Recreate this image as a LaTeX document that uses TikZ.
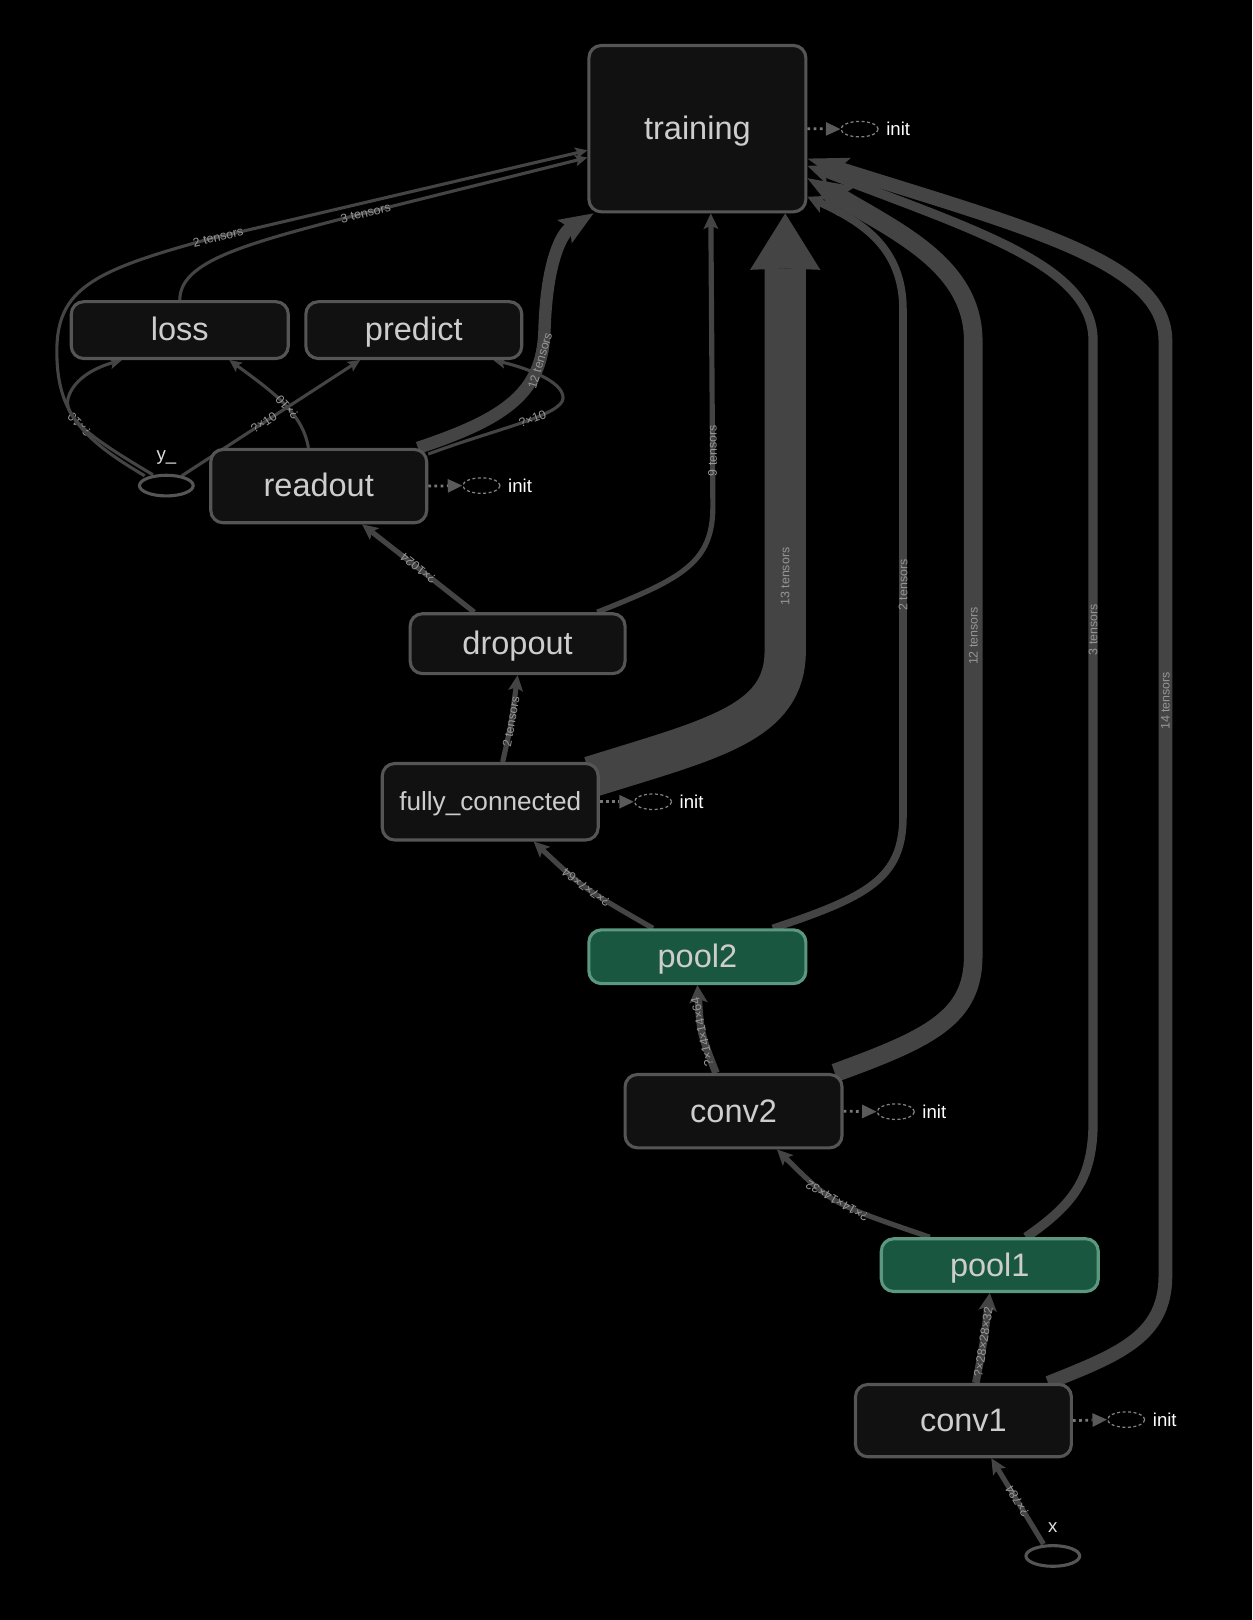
\documentclass[tikz,border=0pt]{standalone}
\usepackage{fontspec}
\setmainfont{Liberation Sans}
\usetikzlibrary{arrows.meta,shapes.geometric,calc}
\pgfdeclarelayer{back}
\pgfdeclarelayer{edges}
\pgfsetlayers{back,edges,main}
\definecolor{edgec}{RGB}{68,68,68}
\definecolor{nodefill}{RGB}{17,17,17}
\definecolor{nodeborder}{RGB}{85,85,85}
\definecolor{nodetext}{RGB}{205,205,205}
\definecolor{poolfill}{RGB}{26,87,65}
\definecolor{poolborder}{RGB}{92,152,128}
\definecolor{labelc}{RGB}{150,150,150}
\definecolor{initline}{RGB}{120,120,120}
\definecolor{inithead}{RGB}{90,90,90}
\definecolor{initell}{RGB}{130,130,130}
\tikzset{
  box/.style={draw=nodeborder, fill=nodefill, line width=2.25pt, rounded corners=9pt,
    text=nodetext, font=\fontsize{23.6pt}{28pt}\selectfont, inner sep=0pt,
    text height=15.8pt, text depth=0pt, anchor=center},
  poolbox/.style={box, draw=poolborder, fill=poolfill},
  inp/.style={ellipse, draw=nodeborder, line width=2.25pt, inner sep=0pt,
    minimum width=39pt, minimum height=15pt},
  inplabel/.style={text=white!88!black, font=\fontsize{13.5pt}{15pt}\selectfont, inner sep=0pt},
  ie/.style={ellipse, draw=initell, line width=0.9pt, dash pattern=on 2.2pt off 1.8pt,
    inner sep=0pt, minimum width=27pt, minimum height=11.25pt},
  inittext/.style={text=white, font=\fontsize{13.5pt}{15pt}\selectfont, inner sep=0pt, anchor=west},
  initl/.style={draw=initline, line width=2pt, dash pattern=on 2pt off 2.5pt,
    -{Triangle[length=10.5pt,width=10pt,line width=0pt,fill=inithead,color=inithead]}},
  elab/.style={sloped, allow upside down, text=labelc, font=\fontsize{9pt}{10pt}\selectfont, inner sep=0pt},
  ew3/.style={draw=edgec, line width=2.25pt, -{Stealth[length=9pt,width=8.5pt,inset=2pt,line width=0pt]}},
  ew5/.style={draw=edgec, line width=3.75pt, -{Stealth[length=11.5pt,width=11pt,inset=2.5pt,line width=0pt]}},
  ew7/.style={draw=edgec, line width=5.5pt, -{Stealth[length=13pt,width=13.5pt,inset=3pt,line width=0pt]}},
  ew9/.style={draw=edgec, line width=6.75pt, -{Stealth[length=18pt,width=15pt,inset=4pt,line width=0pt]}},
  ew12/.style={draw=edgec, line width=9pt, -{Stealth[length=25pt,width=20pt,inset=5pt,line width=0pt]}},
  ew13/.style={draw=edgec, line width=10pt, -{Stealth[length=30pt,width=20pt,inset=6pt,line width=0pt]}},
  ew18/.style={draw=edgec, line width=13.5pt, -{Stealth[length=33pt,width=25pt,inset=6pt,line width=0pt]}},
  ew40/.style={draw=edgec, line width=30pt, -{Stealth[length=41pt,width=51pt,inset=1pt,line width=0pt]}}
}
\begin{document}
\begin{tikzpicture}[x=0.75pt,y=-0.75pt]
\begin{pgfonlayer}{back}
\fill[black] (0,0) rectangle (1212,1568);
\end{pgfonlayer}
\useasboundingbox (0,0) rectangle (1212,1568);

% nodes
\node[box, minimum width=157.5pt, minimum height=120.75pt] (training) at (675,124.5) {training};
\node[box, minimum width=157.5pt, minimum height=41.25pt] (loss) at (174,319.5) {loss};
\node[box, minimum width=156.75pt, minimum height=41.25pt] (predict) at (400.5,319.5) {predict};
\node[box, minimum width=156.75pt, minimum height=53.25pt] (readout) at (308.5,470.5) {readout};
\node[box, minimum width=156pt, minimum height=43.5pt] (dropout) at (501,623) {dropout};
\node[box, minimum width=156.75pt, minimum height=55.5pt, font=\fontsize{19pt}{22pt}\selectfont, text height=12.7pt] (fc) at (474.5,776) {fully\_connected};
\node[poolbox, minimum width=157.5pt, minimum height=39pt] (pool2) at (675,926) {pool2};
\node[box, minimum width=157.5pt, minimum height=53.25pt] (conv2) at (710,1075.5) {conv2};
\node[poolbox, minimum width=157.5pt, minimum height=38.25pt] (pool1) at (958,1224.5) {pool1};
\node[box, minimum width=156.75pt, minimum height=52.5pt] (conv1) at (932.5,1375) {conv1};

\node[inp] (yy) at (161,470) {};
\node[inplabel] (yylab) at (161,443) {y\_};
\node[inp] (xx) at (1019,1506) {};
\node[inplabel] (xxlab) at (1019,1479) {x};

% init ellipses
\node[ie] (ie1) at (832,125) {};
\node[inittext] (it1) at ([shift={(7,0)}]ie1.east) {init};
\node[ie] (ie2) at (466,470) {};
\node[inittext] (it2) at ([shift={(7,0)}]ie2.east) {init};
\node[ie] (ie3) at (632,776) {};
\node[inittext] (it3) at ([shift={(7,0)}]ie3.east) {init};
\node[ie] (ie4) at (867,1076) {};
\node[inittext] (it4) at ([shift={(7,0)}]ie4.east) {init};
\node[ie] (ie5) at (1090,1374) {};
\node[inittext] (it5) at ([shift={(7,0)}]ie5.east) {init};

\begin{pgfonlayer}{edges}
% init connectors
\draw[initl] (training.east) -- (ie1.west);
\draw[initl] (readout.east) -- (ie2.west);
\draw[initl] (fc.east) -- (ie3.west);
\draw[initl] (conv2.east) -- (ie4.west);
\draw[initl] (conv1.east) -- (ie5.west);

% x -> conv1
\draw[ew5] ([shift={(-9,0)}]xx.north) -- node[elab]{?×784} ([shift={(27,0)}]conv1.south);
% conv1 -> pool1
\draw[ew7] ([shift={(12,0)}]conv1.north) .. controls (952,1300) .. node[elab]{?×28×28×32} (pool1.south);
% conv1 -> training
\draw[ew13] ([shift={(82,0)}]conv1.north) .. controls (1080,1312) and (1128,1295) .. (1128,1235)
  -- node[elab,pos=0.615]{14 tensors} (1128,330)
  .. controls (1128,255) and (1000,222) .. ([shift={(0,29)}]training.east);
% pool1 -> training
\draw[ew9] ([shift={(35,0)}]pool1.north) .. controls (1040,1165) and (1058,1140) .. (1058,1085)
  -- node[elab,pos=0.63]{3 tensors} (1058,330)
  .. controls (1058,258) and (950,225) .. ([shift={(0,36)}]training.east);
% conv2 -> training
\draw[ew18] ([shift={(98,0)}]conv2.north) .. controls (900,1005) and (942,985) .. (942,925)
  -- node[elab,pos=0.52]{12 tensors} (942,330)
  .. controls (942,258) and (870,225) .. ([shift={(0,48)}]training.east);
% pool2 -> training
\draw[ew7] ([shift={(73,0)}]pool2.north) .. controls (840,868) and (874,850) .. (874,790)
  -- node[elab,pos=0.457]{2 tensors} (874,300)
  .. controls (874,240) and (835,215) .. ([shift={(0,66)}]training.east);
% fc -> training
\draw[ew40] ([shift={(-9,-24)}]fc.east) .. controls (690,715) and (760,700) .. (760,630)
  -- node[elab,pos=0.17]{13 tensors} ([shift={(85,0)}]training.south);
% dropout -> training
\draw[ew5] ([shift={(77,0)}]dropout.north) .. controls (660,560) and (690,545) .. (690,490)
  -- node[elab,pos=0.19]{9 tensors} ([shift={(13,0)}]training.south);
% readout -> training
\draw[ew12] ([shift={(96,0)}]readout.north) .. controls (490,405) and (525,380) .. node[elab,pos=0.82]{12 tensors} (527,320)
  .. controls (529,250) and (545,225) .. ([shift={(6,0)}]training.south west);
% readout -> predict
\draw[ew3] ([shift={(0,6)}]readout.north east) .. controls (480,415) and (545,402) .. node[elab,pos=0.58]{?×10} (545,385)
  .. controls (545,368) and (505,355) .. ([shift={(77,0)}]predict.south);
% readout -> loss
\draw[ew3] ([shift={(-10,0)}]readout.north) .. controls (293,400) and (265,380) .. node[elab,pos=0.45]{?×10} ([shift={(48,0)}]loss.south);
% y_ -> loss
\draw[ew3] ([shift={(-13,1)}]yy.north) .. controls (95,428) and (60,405) .. node[elab,pos=0.6]{?×10} (66,385)
  .. controls (72,365) and (95,355) .. ([shift={(-56,0)}]loss.south);
% y_ -> predict
\draw[ew3] ([shift={(15,2)}]yy.north) -- node[elab,pos=0.46]{?×10} ([shift={(-52,0)}]predict.south);
% y_ -> training
\draw[ew3] ([shift={(-21,2)}]yy.north) .. controls (80,425) and (55,400) .. (55,340)
  .. controls (55,280) and (90,262) .. (200,232)
  -- node[elab,pos=0.03]{2 tensors} ([shift={(0,21)}]training.west);
% loss -> training
\draw[ew3] (loss.north) .. controls (174,255) and (230,238) .. (330,212)
  -- node[elab,pos=0.1]{3 tensors} ([shift={(0,28)}]training.west);
% dropout -> readout
\draw[ew5] ([shift={(-42,0)}]dropout.north) .. controls (405,550) .. node[elab]{?×1024} ([shift={(42,0)}]readout.south);
% fc -> dropout
\draw[ew5] ([shift={(12,0)}]fc.north) .. controls (495,700) .. node[elab]{2 tensors} (dropout.south);
% pool2 -> fc
\draw[ew5] ([shift={(-43,0)}]pool2.north) .. controls (565,860) .. node[elab]{?×7×7×64} ([shift={(42,0)}]fc.south);
% conv2 -> pool2
\draw[ew7] ([shift={(-17,0)}]conv2.north) .. controls (678,1000) .. node[elab]{?×14×14×64} (pool2.south);
% pool1 -> conv2
\draw[ew5] ([shift={(-58,0)}]pool1.north) .. controls (805,1165) .. node[elab]{?×14×14×32} ([shift={(42,0)}]conv2.south);
\end{pgfonlayer}
\end{tikzpicture}
\end{document}
